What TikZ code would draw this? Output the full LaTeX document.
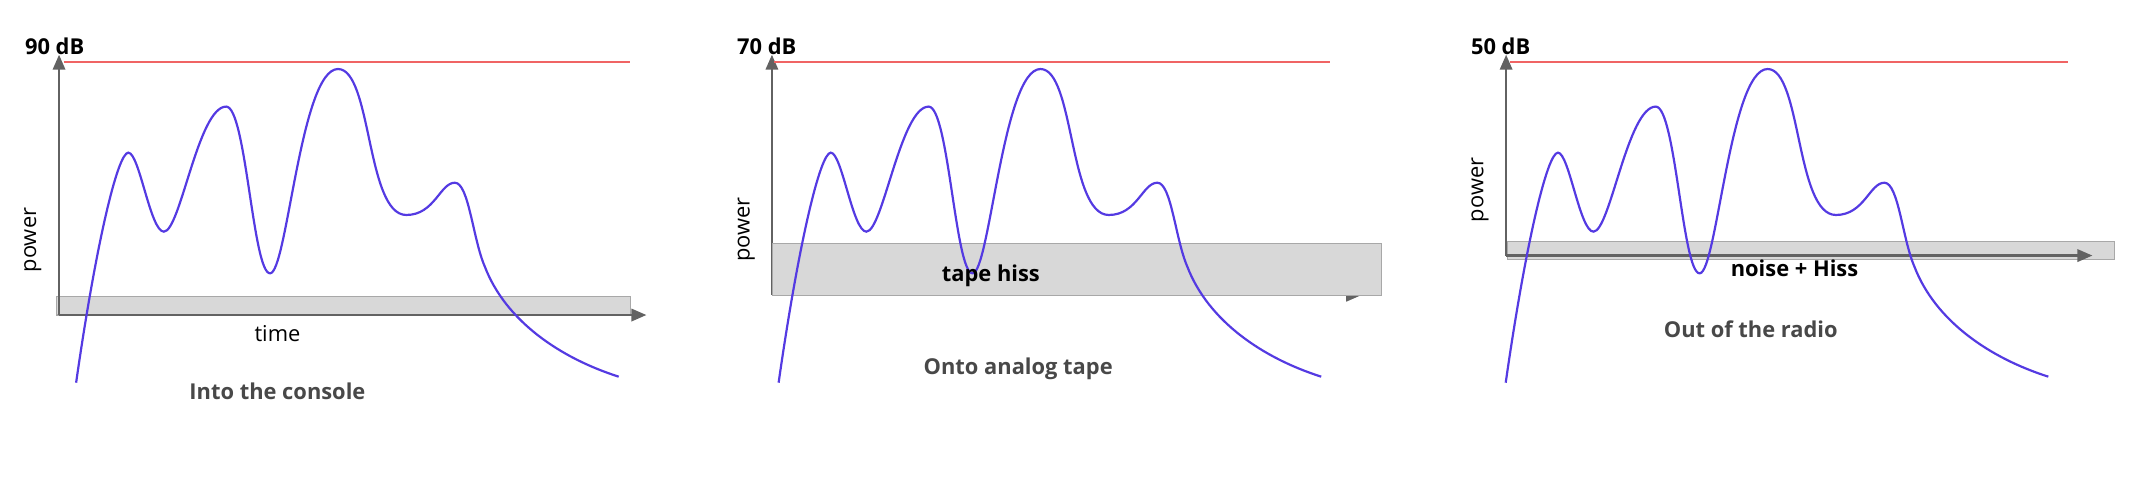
\documentclass[tikz,border=0pt]{standalone}
\usepackage{fontspec}
\setmainfont{Open Sans}
\usetikzlibrary{arrows.meta}
\definecolor{sigblue}{RGB}{84,58,226}
\definecolor{clipred}{RGB}{240,100,100}
\definecolor{hissgrey}{RGB}{216,216,216}
\definecolor{hissedge}{RGB}{168,168,168}
\definecolor{axisgrey}{RGB}{98,98,98}
\definecolor{labelgrey}{RGB}{72,72,72}

\newcommand{\signal}{%
  \draw[signal] (55.7,280) .. controls (70,180) and (86,111.7) .. (93.9,111.7)
    .. controls (102,111.7) and (110,169.5) .. (119.9,169.5)
    .. controls (132,169.5) and (145,78) .. (165.5,78)
    .. controls (180,78) and (185,200) .. (197.6,200)
    .. controls (210,200) and (220,50.5) .. (247.3,50.5)
    .. controls (272,50.5) and (268,157.3) .. (297.3,157.3)
    .. controls (318,157.3) and (322,133.7) .. (332.8,133.7)
    .. controls (343,133.7) and (346,175) .. (354.7,195)
    .. controls (370,235) and (410,262) .. (452.7,275.6);}

\begin{document}
\begin{tikzpicture}[x=1pt, y=-1pt]

  % Styles
  \tikzstyle{axe} = [-{Triangle[width=9pt,length=11pt]}, line width=1.8pt, axisgrey]
  \tikzstyle{signal} = [line width=1.6pt, sigblue]
  \tikzstyle{plafond} = [line width=1pt, clipred]
  \tikzstyle{bruit} = [draw=hissedge, fill=hissgrey, line width=0.8pt]
  \tikzstyle{niveau} = [font=\fontsize{16}{18}\selectfont\bfseries, black]
  \tikzstyle{titre} = [font=\fontsize{16}{18}\selectfont\bfseries, labelgrey]
  \tikzstyle{legende} = [font=\fontsize{16}{18}\selectfont, black]

  \useasboundingbox (0,0) rectangle (1568,350);

  % Into the console
  \draw[bruit] (41.2,217) rectangle (461,230.5);
  \coordinate (o1) at (43.2,230.5);
  \coordinate (y1) at (43.2,40);
  \coordinate (x1) at (473,230.5);
  \draw[axe] (o1) -- (y1);
  \draw[axe] (o1) -- (x1);
  \draw[plafond] (46.6,45.4) -- (461,45.4);
  \signal
  \node[niveau] (db1) at (40,34) {90 dB};
  \node[legende, rotate=90] (pw1) at (24,175.6) {power};
  \node[legende] (time) at (203,244) {time};
  \node[titre] (console) at (203,286) {Into the console};

  % Onto analog tape
  \coordinate (o2) at (564.8,216);
  \coordinate (y2) at (564.8,40);
  \coordinate (x2) at (996,216);
  \draw[axe] (o2) -- (y2);
  \draw[axe] (o2) -- (x2);
  \draw[bruit] (565,178) rectangle (1011,216);
  \draw[plafond] (566,45.4) -- (973,45.4);
  \begin{scope}[xshift=514pt]
    \signal
  \end{scope}
  \node[niveau] (db2) at (561,34) {70 dB};
  \node[legende, rotate=90] (pw2) at (546,168) {power};
  \node[niveau] (hiss) at (725,202) {tape hiss};
  \node[titre] (tape) at (745,269.5) {Onto analog tape};

  % Out of the radio
  \draw[bruit] (1103,177) rectangle (1547,190);
  \coordinate (o3) at (1102,187);
  \coordinate (y3) at (1102,40);
  \coordinate (x3) at (1531,187);
  \draw[axe] (o3) -- (y3);
  \draw[axe] (o3) -- (x3);
  \draw[plafond] (1105,45.4) -- (1513,45.4);
  \begin{scope}[xshift=1046pt]
    \signal
  \end{scope}
  \node[niveau] (db3) at (1098,34) {50 dB};
  \node[legende, rotate=90] (pw3) at (1083,139) {power};
  \node[niveau] (noise) at (1313,196) {noise + Hiss};
  \node[titre] (radio) at (1281,241) {Out of the radio};

\end{tikzpicture}
\end{document}
